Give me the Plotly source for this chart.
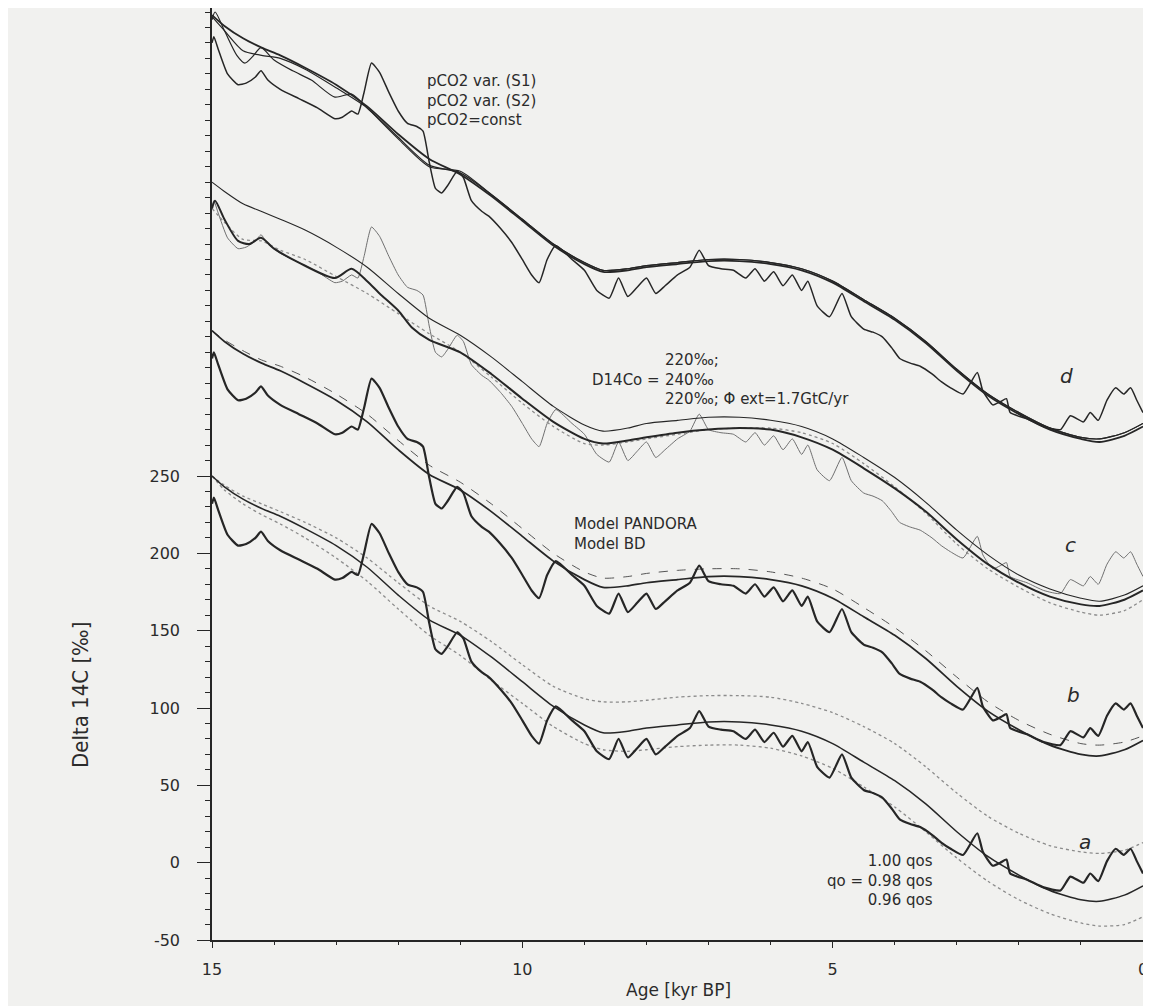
import numpy as np
import plotly.graph_objects as go

# ---------------- data (panel "a" coordinates, per mille) ----------------
AGE_TICKS = [15, 10, 5, 0]
D14C_TICKS = [-50, 0, 50, 100, 150, 200, 250]
PANEL_OFFSET = {"a": 0, "b": 94, "c": 192, "d": 298}

# observed Delta 14C record (same in every panel, shifted by the panel offset)
DATA_AGE = [15.0, 14.97, 14.9, 14.75, 14.58, 14.45, 14.3, 14.21, 14.1, 13.9,
            13.6, 13.3, 13.02, 12.9, 12.75, 12.65, 12.55, 12.43, 12.3, 12.15,
            12.0, 11.85, 11.7, 11.6, 11.5, 11.4, 11.3, 11.2, 11.05, 10.95,
            10.82, 10.65, 10.54, 10.35, 10.17, 10.0, 9.85, 9.73, 9.6, 9.46,
            9.2, 9.0, 8.8, 8.6, 8.45, 8.3, 8.15, 8.0, 7.85, 7.7,
            7.5, 7.3, 7.15, 7.0, 6.8, 6.6, 6.4, 6.25, 6.1, 5.95,
            5.8, 5.65, 5.5, 5.4, 5.25, 5.05, 4.85, 4.7, 4.5, 4.35,
            4.2, 4.05, 3.92, 3.75, 3.59, 3.4, 3.25, 3.1, 2.9, 2.67,
            2.58, 2.42, 2.3, 2.2, 2.14, 1.87, 1.6, 1.33, 1.17, 0.96,
            0.85, 0.72, 0.58, 0.44, 0.31, 0.2, 0.1, 0.0]
DATA_D14C = [232, 236, 228, 212, 205, 206, 210, 214, 208, 202,
             196, 190, 183, 184, 188, 186, 200, 219, 213, 200,
             188, 180, 178, 175, 155, 138, 135, 140, 149, 145,
             130, 123, 120, 112, 103, 92, 82, 77, 92, 101,
             92, 85, 72, 67, 80, 68, 74, 80, 70, 75,
             82, 87, 98, 88, 86, 85, 80, 86, 78, 84,
             75, 82, 72, 78, 62, 55, 70, 55, 47, 45,
             42, 35, 28, 25, 23, 18, 13, 9, 5, 19,
             7, -2, 0, 2, -7, -11, -16, -18, -9, -13,
             -7, -12, 1, 9, 5, 9, 1, -7]

MODEL_AGE = [15.0, 14.8, 14.5, 14.2, 13.9, 13.5, 13.0, 12.5, 12.0, 11.5,
             11.0, 10.5, 10.0, 9.5, 9.0, 8.7, 8.3, 8.0, 7.5, 7.0,
             6.5, 6.0, 5.5, 5.0, 4.5, 4.0, 3.5, 3.0, 2.5, 2.0,
             1.5, 1.0, 0.7, 0.3, 0.0]

# panel a : production normalisation qo
QO_100 = [250, 244, 237, 232, 227, 220, 210, 197, 181, 166,
          156, 143, 128, 114, 106, 104, 104, 105, 107, 108,
          108, 107, 103, 97, 88, 77, 62, 45, 30, 19,
          11, 7, 6, 8, 13]
QO_098 = [250, 243, 235, 229, 224, 216, 205, 191, 173, 157,
          147, 133, 117, 101, 89, 84, 85, 87, 89, 91,
          91, 89, 85, 77, 65, 53, 38, 20, 4, -8,
          -18, -24, -25, -21, -15]
QO_096 = [250, 241, 232, 225, 219, 210, 197, 182, 164, 147,
          134, 118, 103, 88, 77, 73, 72, 73, 75, 76,
          76, 74, 69, 61, 49, 36, 20, 3, -12, -24,
          -33, -39, -41, -40, -35]

# panel b : carbon cycle models
PANDORA = [250, 243, 235, 229, 224, 216, 205, 191, 173, 157,
           147, 133, 117, 101, 89, 84, 85, 87, 89, 91,
           91, 89, 85, 77, 65, 53, 38, 20, 4, -8,
           -18, -24, -25, -21, -15]
BD = [250, 244, 237, 231, 227, 220, 209, 196, 179, 163,
      152, 138, 122, 106, 94, 90, 91, 93, 95, 96,
      96, 94, 90, 83, 71, 58, 43, 26, 10, -2,
      -11, -17, -18, -16, -12]

# panel c : initial D14C
D14CO_240 = [248, 242, 234, 229, 224, 217, 206, 193, 176, 160,
             149, 135, 119, 103, 91, 87, 89, 92, 94, 96,
             96, 94, 90, 82, 70, 57, 41, 23, 7, -6,
             -15, -21, -23, -19, -13]
D14CO_220_PHI = [231, 222, 211, 210, 204, 198, 187, 176, 163, 150,
                 138, 122, 105, 90, 79, 78, 80, 82, 85, 88,
                 89, 89, 86, 79, 66, 51, 34, 14, -2, -14,
                 -24, -30, -32, -29, -22]
D14CO_220_AGE = [15.0, 14.95, 14.8, 14.58, 14.4, 14.21, 14.0, 13.6, 13.02, 12.75,
                 12.5, 12.3, 12.0, 11.78, 11.5, 11.0, 10.5, 10.0, 9.5, 9.0,
                 8.7, 8.3, 8.0, 7.5, 7.0, 6.5, 6.0, 5.5, 5.0, 4.5,
                 4.0, 3.5, 3.0, 2.5, 2.0, 1.5, 1.0, 0.7, 0.3, 0.0]
D14CO_220 = [231, 236, 224, 210, 208, 212, 205, 196, 186, 192,
             184, 176, 165, 154, 146, 138, 124, 108, 93, 82,
             79, 81, 83, 86, 88, 89, 88, 83, 75, 63,
             50, 35, 17, 1, -11, -20, -25, -26, -22, -16]

# panel d : atmospheric pCO2 scenarios
PCO2_S1_AGE = [15.0, 14.95, 14.8, 14.6, 14.47, 14.35, 14.21, 14.0, 13.7, 13.4,
               13.02, 12.75, 12.5, 12.0, 11.5, 11.0, 10.5, 10.0, 9.5, 9.0,
               8.7, 8.3, 8.0, 7.5, 7.0, 6.5, 6.0, 5.5, 5.0, 4.5,
               4.0, 3.5, 3.0, 2.5, 2.0, 1.5, 1.0, 0.7, 0.3, 0.0]
PCO2_S1 = [247, 252, 240, 224, 219, 223, 229, 221, 214, 208,
           197, 199, 190, 170, 152, 149, 134, 118, 102, 90,
           85, 86, 88, 90, 92, 92, 90, 86, 78, 66,
           54, 39, 21, 5, -7, -17, -23, -24, -20, -14]
PCO2_S2 = [249, 240, 227, 224, 222, 215, 203, 190, 171, 153,
           148, 134, 118, 102, 90, 85, 86, 88, 90, 92,
           92, 90, 86, 78, 66, 54, 39, 21, 5, -7,
           -17, -23, -24, -20, -14]
PCO2_CONST = [250, 243, 235, 229, 224, 216, 205, 191, 173, 157,
              147, 133, 117, 101, 89, 84, 85, 87, 89, 91,
              91, 89, 85, 77, 65, 53, 38, 20, 4, -8,
              -18, -24, -26, -22, -16]

# ---------------- figure ----------------
W, H = 1151, 1006
PAGE = 8                       # the page body margin shifts the figure by 8 px
ML, MR, MT, MB = 204, 16, 0, 74
PW, PH = W - ML - MR, H - MT - MB
INK = "#262626"
GREY = "#8c8c8c"
BG = "#f1f1ef"


def px(xp):
    """screen x pixel -> paper fraction"""
    return (xp - PAGE - ML) / PW


def py(yp):
    """screen y pixel -> paper fraction"""
    return (H - MB - (yp - PAGE)) / PH


fig = go.Figure()


def add(age, vals, panel, width, color=INK, dash="solid", smooth=0.7):
    y = np.asarray(vals, dtype=float) + PANEL_OFFSET[panel]
    fig.add_trace(go.Scatter(
        x=age, y=y, mode="lines",
        line=dict(color=color, width=width, dash=dash, shape="spline", smoothing=smooth),
        hoverinfo="skip", showlegend=False))


# panel a
add(MODEL_AGE, QO_100, "a", 1.3, GREY, "dot")
add(MODEL_AGE, QO_096, "a", 1.3, GREY, "dot")
add(MODEL_AGE, QO_098, "a", 1.5)
add(DATA_AGE, DATA_D14C, "a", 2.2, smooth=0.5)
# panel b
add(MODEL_AGE, BD, "b", 1.0, "#555555", "dash")
add(MODEL_AGE, PANDORA, "b", 1.7)
add(DATA_AGE, DATA_D14C, "b", 2.2, smooth=0.5)
# panel c
add(DATA_AGE, DATA_D14C, "c", 1.0, "#6f6f6f", smooth=0.5)
add(MODEL_AGE, D14CO_220_PHI, "c", 1.3, GREY, "dot")
add(MODEL_AGE, D14CO_240, "c", 1.1)
add(D14CO_220_AGE, D14CO_220, "c", 2.0)
# panel d
add(MODEL_AGE, PCO2_S2, "d", 1.2)
add(PCO2_S1_AGE, PCO2_S1, "d", 1.2)
add(MODEL_AGE, PCO2_CONST, "d", 1.8)
add(DATA_AGE, DATA_D14C, "d", 1.5, smooth=0.5)

TXT = dict(family="DejaVu Sans, Arial, sans-serif", size=15, color="#2b2b2b")
ann = []


def note(text, xp, yp, anchor="left", font=TXT, align="left"):
    ann.append(dict(text=text, x=px(xp), y=py(yp), xref="paper", yref="paper",
                    xanchor=anchor, yanchor="middle", showarrow=False, font=font,
                    align=align))


note("pCO2 var. (S1)<br>pCO2 var. (S2)<br>pCO2=const", 425, 100)
note("220‰;<br>240‰<br>220‰; Φ ext=1.7GtC/yr", 663, 380)
note("D14Co =", 662, 380, "right")
note("Model PANDORA<br>Model BD", 572, 534)
note("1.00 qos<br>qo = 0.98 qos<br>0.96 qos", 935, 880, "right", TXT, "right")

LAB = dict(family="DejaVu Sans, Arial, sans-serif", size=20, color="#2b2b2b")
note("<i>d</i>", 1066, 376, "center", LAB)
note("<i>c</i>", 1070, 545, "center", LAB)
note("<i>b</i>", 1073, 695, "center", LAB)
note("<i>a</i>", 1085, 842, "center", LAB)

# axis titles
ann.append(dict(text="Age [kyr BP]", x=px(678), y=py(990), xref="paper", yref="paper",
                xanchor="center", yanchor="middle", showarrow=False,
                font=dict(family="DejaVu Sans, Arial, sans-serif", size=17, color="#2b2b2b")))
ann.append(dict(text="Delta 14C [‰]", x=px(80), y=py(695), xref="paper", yref="paper",
                xanchor="center", yanchor="middle", showarrow=False, textangle=-90,
                font=dict(family="Liberation Sans Narrow, DejaVu Sans Condensed, Liberation Sans, Arial",
                          size=22, color="#2b2b2b")))

TICKF = dict(family="DejaVu Sans, Arial, sans-serif", size=16, color="#2b2b2b")

fig.update_layout(
    width=W, height=H,
    margin=dict(l=ML, r=MR, t=MT, b=MB, pad=0),
    paper_bgcolor=BG, plot_bgcolor=BG,
    annotations=ann,
    xaxis=dict(range=[15, 0], tickmode="array", tickvals=AGE_TICKS,
               ticktext=[str(v) for v in AGE_TICKS],
               showgrid=False, zeroline=False, showline=True, linecolor=INK, linewidth=1.5,
               ticks="outside", ticklen=6, tickwidth=1, tickcolor=INK,
               ticklabelstandoff=8, tickfont=TICKF, ticklabeloverflow="allow",
               minor=dict(tickmode="linear", tick0=0, dtick=1, ticks="outside",
                          ticklen=3, tickcolor=INK, showgrid=False)),
    yaxis=dict(range=[-50, 552.6], tickmode="array", tickvals=D14C_TICKS,
               ticktext=[str(v) for v in D14C_TICKS],
               showgrid=False, zeroline=False, showline=True, linecolor=INK, linewidth=1.5,
               mirror=True,
               ticks="outside", ticklen=13, tickwidth=1, tickcolor=INK,
               ticklabelstandoff=14, tickfont=TICKF,
               minor=dict(tickmode="linear", tick0=0, dtick=10, ticks="outside",
                          ticklen=5, tickcolor=INK, showgrid=False)),
)

fig.write_html("out.html")
